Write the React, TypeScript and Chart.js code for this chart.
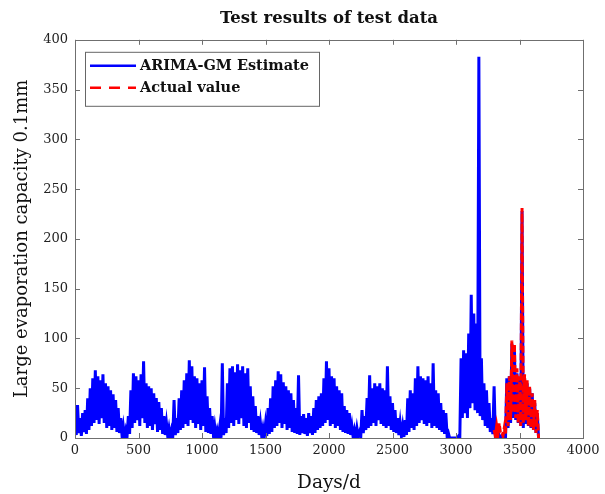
import React, { useEffect, useRef } from "react";
import { Chart, registerables } from "chart.js";

Chart.register(...registerables);

const TITLE = "Test results of test data";
const X_TITLE = "Days/d";
const Y_TITLE = "Large evaporation capacity 0.1mm";
const SERIES_NAMES = ["ARIMA-GM Estimate", "Actual value"];

const X_TICKS = [0, 500, 1000, 1500, 2000, 2500, 3000, 3500, 4000];
const Y_TICKS = [0, 50, 100, 150, 200, 250, 300, 350, 400];

// Estimate series, read in 20-day bins starting at day 0: daily high of each bin ...
const ESTIMATE_START = 0;
const BIN_DAYS = 20;
const estimateHigh = [
  18, 33, 20, 25, 28, 40, 50, 60, 68, 62, 58, 64, 55, 52, 48, 44, 38, 30, 20, 12,
  8, 22, 48, 65, 62, 58, 64, 77, 55, 52, 50, 45, 40, 36, 30, 22, 15, 10, 8, 38,
  20, 40, 48, 58, 65, 78, 72, 62, 60, 55, 58, 71, 42, 30, 22, 12, 8, 12, 75, 20,
  55, 70, 72, 66, 74, 68, 72, 65, 70, 52, 42, 32, 22, 15, 10, 14, 30, 40, 52, 58,
  67, 64, 56, 52, 48, 45, 38, 30, 63, 22, 24, 20, 25, 22, 30, 38, 42, 45, 60, 77,
  70, 62, 60, 52, 48, 45, 32, 28, 25, 12, 8, 10, 6, 28, 22, 40, 63, 50, 55, 52,
  55, 50, 48, 72, 42, 35, 28, 20, 15, 12, 18, 40, 48, 45, 60, 72, 62, 60, 58, 62,
  55, 75, 48, 45, 35, 28, 25, 5, 0, 0, 0, 2, 80, 88, 85, 105, 144, 125, 115, 383,
  80, 55, 48, 35, 20, 52, 5, 3, 2, 4, 60, 62, 95, 92, 65, 60, 228, 60, 55, 50,
  45, 35, 25,
];
// ... and low of each bin (10 days later)
const estimateLow = [
  3, 5, 2, 6, 4, 8, 12, 15, 18, 14, 20, 15, 10, 12, 8, 10, 6, 5, 3, 1,
  2, 4, 10, 15, 18, 12, 20, 15, 10, 12, 8, 14, 6, 8, 4, 3, 2, 1, 2, 3,
  5, 8, 10, 14, 12, 18, 15, 10, 14, 8, 12, 6, 5, 4, 3, 1, 2, 0, 3, 5,
  10, 15, 12, 18, 14, 20, 12, 10, 15, 8, 6, 5, 3, 2, 1, 2, 4, 6, 10, 12,
  15, 10, 14, 8, 10, 6, 5, 4, 3, 5, 4, 2, 5, 3, 5, 8, 10, 12, 15, 18,
  12, 14, 10, 12, 8, 6, 5, 4, 3, 1, 0, 2, 1, 5, 8, 10, 12, 15, 12, 18,
  14, 12, 10, 12, 8, 6, 5, 3, 2, 1, 3, 6, 10, 8, 12, 15, 18, 14, 12, 15,
  10, 12, 10, 8, 6, 4, 2, 0, 0, 0, 0, 0, 20, 25, 20, 30, 35, 28, 25, 22,
  18, 12, 10, 6, 4, 2, 0, 0, 0, 0, 10, 15, 20, 18, 15, 12, 10, 14, 12, 10,
  8, 5, 0,
];

// Actual values over the test period, 20-day bins from day 3300
const ACTUAL_START = 3300;
const actualHigh = [8, 12, 15, 6, 10, 55, 62, 98, 95, 70, 62, 231, 64, 58, 52, 45, 38, 28];
const actualLow = [2, 3, 5, 2, 3, 12, 18, 25, 20, 15, 12, 15, 18, 12, 10, 8, 5, 0];

function toPoints(start: number, highs: number[], lows: number[]) {
  const pts: { x: number; y: number }[] = [];
  highs.forEach((h, i) => {
    pts.push({ x: start + i * BIN_DAYS, y: h });
    if (lows[i] !== undefined) pts.push({ x: start + i * BIN_DAYS + BIN_DAYS / 2, y: lows[i] });
  });
  return pts;
}

const FONT = "'DejaVu Serif', 'Liberation Serif', serif";

const framePlugin = {
  id: "frameAndLegend",
  afterDraw(chart: any) {
    const { ctx, chartArea: a, scales } = chart;
    ctx.save();
    ctx.strokeStyle = "#6f6f6f";
    ctx.lineWidth = 1;
    ctx.strokeRect(Math.round(a.left) + 0.5, Math.round(a.top) + 0.5, Math.round(a.right - a.left), Math.round(a.bottom - a.top));
    const tl = 5;
    ctx.beginPath();
    scales.x.ticks.forEach((t: any) => {
      const px = Math.round(scales.x.getPixelForValue(t.value)) + 0.5;
      ctx.moveTo(px, a.bottom);
      ctx.lineTo(px, a.bottom - tl);
      ctx.moveTo(px, a.top);
      ctx.lineTo(px, a.top + tl);
    });
    scales.y.ticks.forEach((t: any) => {
      const py = Math.round(scales.y.getPixelForValue(t.value)) + 0.5;
      ctx.moveTo(a.left, py);
      ctx.lineTo(a.left + tl, py);
      ctx.moveTo(a.right, py);
      ctx.lineTo(a.right - tl, py);
    });
    ctx.stroke();

    // legend box inside plot, top-left
    const lx = a.left + 10;
    const ly = a.top + 12;
    const lw = 234;
    const lh = 54;
    ctx.fillStyle = "#ffffff";
    ctx.fillRect(lx, ly, lw, lh);
    ctx.strokeStyle = "#666666";
    ctx.strokeRect(lx + 0.5, ly + 0.5, lw, lh);
    const items = [
      { name: SERIES_NAMES[0], color: "#0000ff", dash: [] as number[] },
      { name: SERIES_NAMES[1], color: "#ff0000", dash: [11, 8] },
    ];
    items.forEach((it, i) => {
      const yy = ly + 14 + i * 22;
      ctx.beginPath();
      ctx.setLineDash(it.dash);
      ctx.strokeStyle = it.color;
      ctx.lineWidth = 2.5;
      ctx.moveTo(lx + 5, yy);
      ctx.lineTo(lx + 51, yy);
      ctx.stroke();
      ctx.setLineDash([]);
      ctx.fillStyle = "#111111";
      ctx.font = `bold 14.5px ${FONT}`;
      ctx.textBaseline = "middle";
      ctx.textAlign = "left";
      ctx.fillText(it.name, lx + 55, yy);
    });
    ctx.restore();
  },
};

export default function App() {
  const ref = useRef<HTMLCanvasElement | null>(null);
  useEffect(() => {
    if (!ref.current) return;
    const chart = new Chart(ref.current, {
      type: "line",
      data: {
        datasets: [
          {
            label: SERIES_NAMES[0],
            data: toPoints(ESTIMATE_START, estimateHigh, estimateLow),
            borderColor: "#0000ff",
            borderWidth: 3,
            pointRadius: 0,
            tension: 0,
            fill: false,
            order: 2,
          },
          {
            label: SERIES_NAMES[1],
            data: toPoints(ACTUAL_START, actualHigh, actualLow),
            borderColor: "#ff0000",
            borderWidth: 3,
            borderDash: [7, 3],
            pointRadius: 0,
            tension: 0,
            fill: false,
            order: 1,
          },
        ],
      },
      options: {
        responsive: false,
        animation: false,
        devicePixelRatio: 1,
        layout: { padding: { left: 0, right: 22, top: 0, bottom: 0 } },
        plugins: {
          legend: { display: false },
          tooltip: { enabled: false },
          title: {
            display: true,
            text: TITLE,
            fullSize: false,
            color: "#111111",
            font: { family: FONT, size: 16.5, weight: "bold", lineHeight: 1.2 },
            padding: { top: 9, bottom: 11 },
          },
        },
        scales: {
          x: {
            type: "linear",
            min: 0,
            max: 4000,
            afterFit: (s: any) => {
              s.height = 56;
            },
            afterBuildTicks: (s: any) => {
              s.ticks = X_TICKS.map((v) => ({ value: v }));
            },
            ticks: {
              color: "#222222",
              font: { family: FONT, size: 13 },
              padding: 5,
              maxRotation: 0,
              callback: (v: any) => String(v),
            },
            grid: { display: false, drawTicks: false },
            border: { display: false },
            title: {
              display: true,
              text: X_TITLE,
              color: "#111111",
              font: { family: FONT, size: 18.5, lineHeight: 1.2 },
              padding: { top: 0, bottom: 0 },
            },
          },
          y: {
            type: "linear",
            min: 0,
            max: 400,
            afterFit: (s: any) => {
              s.width = 75;
            },
            afterBuildTicks: (s: any) => {
              s.ticks = Y_TICKS.map((v) => ({ value: v }));
            },
            ticks: {
              color: "#222222",
              font: { family: FONT, size: 13 },
              padding: 7,
              callback: (v: any) => String(v),
            },
            grid: { display: false, drawTicks: false },
            border: { display: false },
            title: {
              display: true,
              text: Y_TITLE,
              color: "#111111",
              font: { family: FONT, size: 18, lineHeight: 1.2 },
              padding: { top: 12, bottom: 0 },
            },
          },
        },
      },
      plugins: [framePlugin],
    });
    return () => chart.destroy();
  }, []);
  return (
    <div style={{ position: "absolute", left: 0, top: 0, width: 605, height: 494, background: "#fff" }}>
      <canvas ref={ref} width={605} height={494} />
    </div>
  );
}
